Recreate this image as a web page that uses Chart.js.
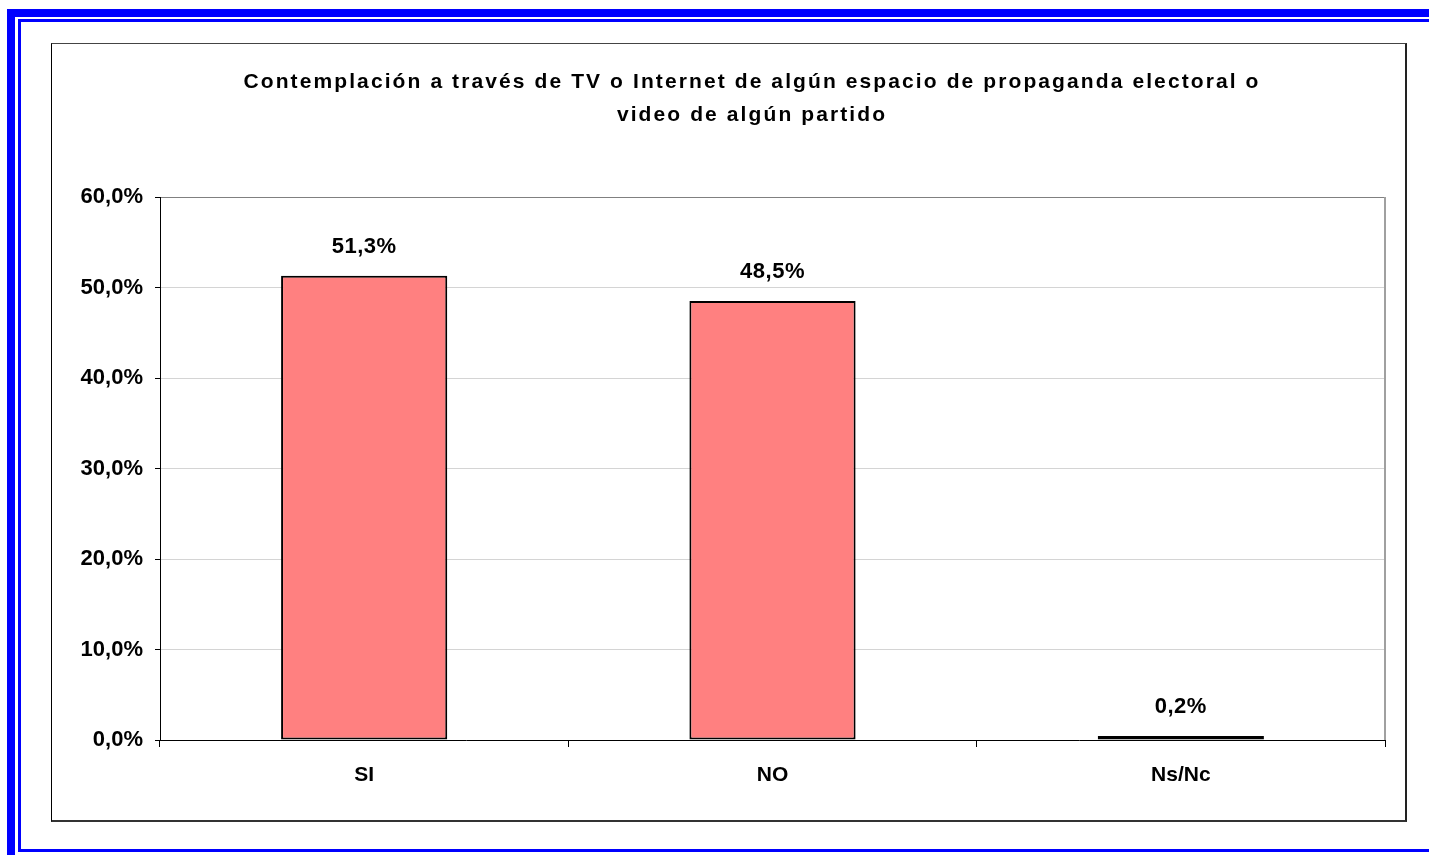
<!DOCTYPE html>
<html>
<head>
<meta charset="utf-8">
<script src="https://cdn.jsdelivr.net/npm/chart.js@4"></script>
<style>
  html, body { margin: 0; padding: 0; background: #fff; overflow: hidden; }
  body { width: 1429px; height: 855px; position: relative; }
  .frame-outer {
    position: absolute; left: 7px; top: 9px; width: 1500px; height: 900px;
    border: 8px solid #0000ff; box-sizing: border-box;
  }
  .frame-inner {
    position: absolute; left: 18px; top: 19px; width: 1500px; height: 833px;
    border: 3px solid #0000ff; box-sizing: border-box;
  }
  .chart-box {
    position: absolute; left: 51px; top: 43px; width: 1356px; height: 779px;
    border-left: 1px solid #000; border-top: 1px solid #444;
    border-right: 2px solid #222; border-bottom: 2px solid #333;
    box-sizing: border-box; background: #fff;
  }
  canvas { display: block; }
</style>
</head>
<body>
<div class="frame-outer"></div>
<div class="frame-inner"></div>
<div class="chart-box">
  <canvas id="myChart" width="1353" height="776"></canvas>
</div>
<script>
const titleLines = [
  "Contemplación a través de TV o Internet de algún espacio de propaganda electoral o",
  "video de algún partido"
];
const categories = ["SI", "NO", "Ns/Nc"];
const values = [51.3, 48.5, 0.2];
const yTicks = [0, 10, 20, 30, 40, 50, 60];

function pct(v) {
  return v.toFixed(1).replace(".", ",") + "%";
}

const titlePlugin = {
  id: "customTitle",
  afterDraw(chart) {
    const ctx = chart.ctx;
    ctx.save();
    ctx.font = "bold 21px 'Liberation Sans', Arial, sans-serif";
    ctx.fillStyle = "#000";
    ctx.textAlign = "center";
    ctx.textBaseline = "middle";
    ctx.letterSpacing = "2.1px";
    ctx.fillText(titleLines[0], 700, 38);
    ctx.fillText(titleLines[1], 700, 71);
    ctx.restore();
  }
};

const labelPlugin = {
  id: "barLabels",
  afterDatasetsDraw(chart) {
    const ctx = chart.ctx;
    const meta = chart.getDatasetMeta(0);
    ctx.save();
    ctx.font = "bold 22px 'Liberation Sans', Arial, sans-serif";
    ctx.fillStyle = "#000";
    ctx.textAlign = "center";
    ctx.textBaseline = "middle";
    ctx.letterSpacing = "0.5px";
    meta.data.forEach((bar, i) => {
      ctx.fillText(pct(values[i]), bar.x, bar.y - 29);
    });
    ctx.restore();
  }
};

const frameLine = {
  id: "frameLine",
  beforeDatasetsDraw(chart) {
    const { ctx, chartArea } = chart;
    ctx.save();
    ctx.strokeStyle = "#a0a0a0";
    ctx.lineWidth = 2;
    ctx.beginPath();
    ctx.moveTo(chartArea.right, chartArea.top);
    ctx.lineTo(chartArea.right, chartArea.bottom);
    ctx.stroke();
    ctx.restore();
  }
};

new Chart(document.getElementById("myChart").getContext("2d"), {
  type: "bar",
  data: {
    labels: categories,
    datasets: [{
      data: values,
      backgroundColor: "#ff8080",
      borderColor: "#000",
      borderWidth: 2,
      borderSkipped: false,
      minBarLength: 4,
      categoryPercentage: 0.407,
      barPercentage: 1
    }]
  },
  options: {
    responsive: false,
    animation: false,
    devicePixelRatio: 1,
    layout: { padding: { top: 153, right: 20, left: 0, bottom: 0 } },
    plugins: {
      legend: { display: false },
      title: { display: false },
      tooltip: { enabled: false }
    },
    scales: {
      x: {
        afterFit(scale) { scale.height = 80; },
        grid: {
          offset: true,
          drawOnChartArea: false,
          tickLength: 7,
          tickColor: "#000"
        },
        border: { color: "#000", width: 1 },
        ticks: {
          color: "#000",
          padding: 16,
          font: { family: "'Liberation Sans', Arial, sans-serif", size: 21, weight: "bold" }
        }
      },
      y: {
        min: 0,
        max: 60,
        afterFit(scale) { scale.width = 108; },
        afterBuildTicks(scale) { scale.ticks = yTicks.map(v => ({ value: v })); },
        grid: {
          color: (c) => (c.tick && c.tick.value === 60 ? "#808080" : "#d4d4d4"),
          tickColor: "#000",
          tickLength: 5
        },
        border: { color: "#000", width: 1 },
        ticks: {
          color: "#000",
          padding: 12,
          callback: (v) => pct(v),
          font: { family: "'Liberation Sans', Arial, sans-serif", size: 22, weight: "bold" }
        }
      }
    }
  },
  plugins: [frameLine, labelPlugin, titlePlugin]
});
</script>
</body>
</html>
